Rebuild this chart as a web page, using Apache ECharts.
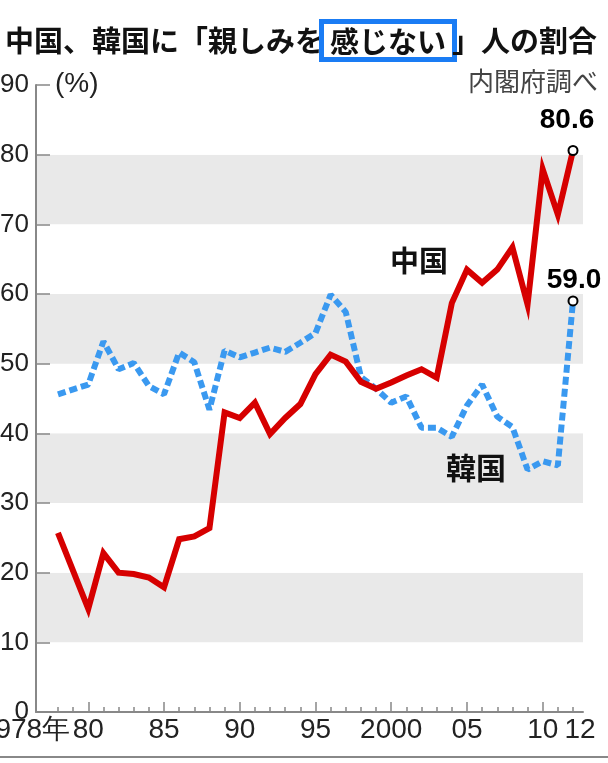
<!DOCTYPE html>
<html>
<head>
<meta charset="utf-8">
<script src="https://cdn.jsdelivr.net/npm/echarts@6/dist/echarts.min.js"></script>
<style>
html,body{margin:0;padding:0;background:#fff;}
#c{width:608px;height:763px;}
</style>
</head>
<body>
<div id="c"></div>
<script>
// ---- data ----
const years = [1978,1980,1981,1982,1983,1984,1985,1986,1987,1988,1989,1990,1991,1992,1993,1994,1995,1996,1997,1998,1999,2000,2001,2002,2003,2004,2005,2006,2007,2008,2009,2010,2011,2012];
const china = [25.7,14.8,22.8,20.0,19.8,19.3,17.9,24.8,25.2,26.4,43.0,42.2,44.4,39.9,42.2,44.2,48.5,51.3,50.3,47.4,46.4,47.3,48.3,49.2,48.0,58.7,63.5,61.6,63.5,66.7,58.5,77.9,71.4,80.6];
const korea = [45.6,47.0,53.2,49.2,50.1,46.8,45.6,51.6,50.2,43.4,51.9,50.9,51.6,52.3,51.7,53.0,54.4,59.9,57.4,48.1,46.4,44.4,45.3,40.8,40.8,39.5,44.0,47.0,42.4,40.9,34.8,36.0,35.4,59.0];
const majorTicks = [1980,1985,1990,1995,2000,2005,2010];
const labelYears = [1978,1980,1985,1990,1995,2000,2005,2010,2012];
const labelText = {1978:'1978年',1980:'80',1985:'85',1990:'90',1995:'95',2000:'2000',2005:'05',2010:'10',2012:'12'};
const allYears = [];
for (let y = 1978; y <= 2012; y++) allYears.push(y);
const seriesNames = ['中国','韓国'];
const titleParts = ['中国、韓国に「親しみを','感じない','」人の割合'];

const X_MIN = 1976.55, X_MAX = 2012.66;
const SANS = '"Liberation Sans",Arial,sans-serif';
const CJK = '"Noto Sans CJK JP","Noto Sans",sans-serif';

function build(vals, lastLabelOffset) {
  return vals.map((v, i) => {
    const item = {value: [years[i], v]};
    if (i === vals.length - 1) {
      item.symbol = 'circle';
      item.symbolSize = 9;
      item.itemStyle = {color: '#fff', borderColor: '#000', borderWidth: 2};
      item.label = {
        show: true, position: 'top', distance: lastLabelOffset[1], offset: [lastLabelOffset[0], 0],
        formatter: v.toFixed(1),
        fontFamily: SANS, fontWeight: 'bold', fontSize: 28, color: '#000'
      };
    }
    return item;
  });
}

const chart = echarts.init(document.getElementById('c'), null, {renderer: 'canvas'});
chart.setOption({
  backgroundColor: '#fff',
  animation: false,
  title: {
    left: 0, top: 19,
    text: '{a|' + titleParts[0] + '}{b|' + titleParts[1] + '}{a|' + titleParts[2] + '}',
    textStyle: {
      rich: {
        a: {fontFamily: CJK, fontWeight: 'bold', fontSize: 29, color: '#111'},
        b: {fontFamily: CJK, fontWeight: 'bold', fontSize: 29, color: '#111', backgroundColor: '#fff',
            borderColor: '#1a7cf4', borderWidth: 5, padding: [3, 6, 1, 6]}
      }
    }
  },
  grid: {left: 36, right: 25, top: 85, bottom: 51, containLabel: false, outerBoundsMode: 'none'},
  xAxis: [{
    type: 'value', min: X_MIN, max: X_MAX, position: 'bottom',
    axisLine: {show: true, lineStyle: {color: '#888', width: 2}},
    axisTick: {show: true, inside: true, length: 10, customValues: majorTicks, lineStyle: {color: '#888', width: 1.5}},
    axisLabel: {
      show: true, customValues: [X_MIN].concat(labelYears, [X_MAX]), margin: 3, hideOverlap: false,
      showMinLabel: true, showMaxLabel: true,
      formatter: function (v) {
        const t = labelText[Math.round(v)];
        if (t === undefined || Math.abs(v - Math.round(v)) > 0.01) return '';
        if (Math.round(v) === 1978) return '{l|' + t + '}';
        if (Math.round(v) === 2012) return '{r|' + t + '}';
        return t;
      },
      fontFamily: SANS, fontSize: 28, color: '#222', lineHeight: 30,
      rich: {
        l: {fontFamily: SANS, fontSize: 28, color: '#222', lineHeight: 30, padding: [0, 66, 0, 0]},
        r: {fontFamily: SANS, fontSize: 28, color: '#222', lineHeight: 30, padding: [0, 0, 0, 14]}
      }
    },
    splitLine: {show: false}
  }, {
    type: 'value', min: X_MIN, max: X_MAX, position: 'bottom', gridIndex: 0,
    axisLine: {show: false},
    axisTick: {show: true, inside: true, length: 5, customValues: allYears, lineStyle: {color: '#888', width: 1.5}},
    axisLabel: {show: false},
    splitLine: {show: false}
  }],
  yAxis: {
    type: 'value', min: 0, max: 90, interval: 10,
    axisLine: {show: true, lineStyle: {color: '#888', width: 2}},
    axisTick: {show: true, inside: true, length: 14, lineStyle: {color: '#888', width: 1.5}},
    axisLabel: {fontFamily: SANS, fontSize: 26, color: '#222', margin: 7, showMinLabel: true, showMaxLabel: true, hideOverlap: false},
    splitLine: {show: false},
    splitArea: {show: true, areaStyle: {color: ['#ffffff', '#e9e9e9']}}
  },
  series: [{
    name: seriesNames[0], type: 'line', symbol: 'none', showSymbol: true, showAllSymbol: true,
    data: build(china, [-6, 11]),
    lineStyle: {color: '#d60000', width: 6, join: 'miter'},
    itemStyle: {color: '#d60000'},
    z: 3
  }, {
    name: seriesNames[1], type: 'line', symbol: 'none', showSymbol: true, showAllSymbol: true,
    data: build(korea, [1, 1]),
    lineStyle: {color: '#3a99f0', width: 6, type: [8, 4]},
    itemStyle: {color: '#3a99f0'},
    z: 2
  }],
  graphic: [
    {type: 'text', left: 55, top: 70, z: 100, style: {text: '(%)', fontFamily: SANS, fontSize: 28, fill: '#222'}},
    {type: 'text', right: 10, top: 68, z: 100, style: {text: '内閣府調べ', fontFamily: CJK, fontSize: 26, fill: '#444'}},
    {type: 'text', left: 390, top: 246, z: 100, style: {text: seriesNames[0], fontFamily: CJK, fontWeight: 'bold', fontSize: 29, fill: '#111'}},
    {type: 'text', left: 446, top: 453, z: 100, style: {text: seriesNames[1], fontFamily: CJK, fontWeight: 'bold', fontSize: 30, fill: '#111'}},
    {type: 'rect', left: 0, top: 756, z: 100, shape: {width: 608, height: 2}, style: {fill: '#888'}}
  ]
});
</script>
</body>
</html>
